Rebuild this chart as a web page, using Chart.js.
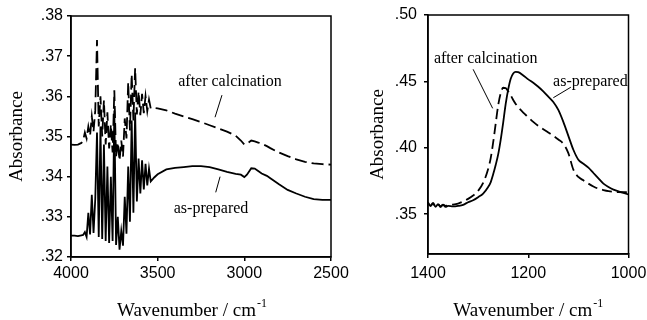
<!DOCTYPE html>
<html>
<head>
<meta charset="utf-8">
<script src="https://cdn.jsdelivr.net/npm/chart.js@4.4.1/dist/chart.umd.min.js"></script>
<style>
  html, body { margin: 0; padding: 0; background: #fff; }
  #wrap { position: relative; width: 647px; height: 320px; overflow: hidden; }
  #chartL { position: absolute; left: 0; top: 0; }
  #chartR { position: absolute; left: 340px; top: 0; }
</style>
</head>
<body>
<div id="wrap">
  <canvas id="chartL" width="370" height="320"></canvas>
  <canvas id="chartR" width="307" height="320"></canvas>
</div>
<script>
// left panel: O-H / C-H region
var leftWn = [4000, 3980, 3960, 3940,
  3930, 3920, 3910, 3900, 3890, 3880, 3870, 3860, 3850, 3840,
  3830, 3820, 3810, 3800, 3790, 3780, 3770, 3760, 3750, 3740,
  3730, 3720, 3710, 3700, 3690, 3680, 3670, 3660, 3650, 3640,
  3630, 3620, 3610, 3600, 3590, 3580, 3570, 3560, 3550, 3540,
  3520, 3500, 3450, 3400, 3350, 3300, 3250, 3200, 3150, 3100,
  3050, 3020, 3000, 2985, 2960, 2940, 2920, 2900, 2870, 2850,
  2800, 2750, 2700, 2650, 2600, 2550, 2500];
var leftCalc = [0.3480, 0.3479, 0.3480, 0.3484,
  0.3490, 0.3510, 0.3495, 0.3525, 0.3502, 0.3550, 0.3512, 0.3565, 0.3740, 0.3525,
  0.3600, 0.3500, 0.3590, 0.3480, 0.3560, 0.3470, 0.3530, 0.3460, 0.3615, 0.3450,
  0.3485, 0.3440, 0.3490, 0.3450, 0.3545, 0.3495, 0.3635, 0.3515, 0.3655, 0.3540,
  0.3670, 0.3555, 0.3612, 0.3553, 0.3606, 0.3558, 0.3601, 0.3563, 0.3592, 0.3570,
  0.3571, 0.3570, 0.3565, 0.3557, 0.3550, 0.3543, 0.3536, 0.3528, 0.3520, 0.3512,
  0.3502, 0.3490, 0.3480, 0.3482, 0.3490, 0.3488, 0.3485, 0.3482, 0.3476, 0.3471,
  0.3460, 0.3451, 0.3443, 0.3437, 0.3433, 0.3431, 0.3430];
var leftPrep = [0.3253, 0.3253, 0.3252, 0.3254,
  0.3255, 0.3262, 0.3250, 0.3310, 0.3256, 0.3355, 0.3260, 0.3345, 0.3510, 0.3250,
  0.3525, 0.3245, 0.3480, 0.3240, 0.3425, 0.3235, 0.3400, 0.3240, 0.3565, 0.3230,
  0.3300, 0.3218, 0.3265, 0.3228, 0.3350, 0.3258, 0.3425, 0.3288, 0.3540, 0.3310,
  0.3560, 0.3338, 0.3445, 0.3358, 0.3441, 0.3368, 0.3432, 0.3378, 0.3420, 0.3388,
  0.3398, 0.3406, 0.3418, 0.3422, 0.3424, 0.3426, 0.3426, 0.3424, 0.3418, 0.3412,
  0.3407, 0.3405, 0.3399, 0.3405, 0.3421, 0.3420, 0.3414, 0.3408, 0.3402, 0.3396,
  0.3381, 0.3367, 0.3358, 0.3350, 0.3344, 0.3342, 0.3342];
var leftXTicks = [4000, 3500, 3000, 2500];
var leftYTicks = [0.32, 0.33, 0.34, 0.35, 0.36, 0.37, 0.38];

// right panel: framework region
var rightWn = [1400, 1395, 1390, 1385, 1380, 1375, 1370, 1365, 1360, 1350,
  1340, 1330, 1320, 1310, 1300, 1290, 1280, 1275, 1270, 1265,
  1260, 1255, 1250, 1245, 1240, 1235, 1230, 1225, 1220, 1210,
  1200, 1190, 1180, 1170, 1160, 1150, 1140, 1130, 1120, 1110,
  1100, 1090, 1080, 1070, 1060, 1050, 1040, 1030, 1020, 1010, 1000];
var rightCalc = [0.3580, 0.3565, 0.3585, 0.3560, 0.3575, 0.3560, 0.3572, 0.3562, 0.3568, 0.3572,
  0.3580, 0.3595, 0.3615, 0.3640, 0.3675, 0.3735, 0.3840, 0.3920, 0.4040, 0.4180,
  0.4320, 0.4410, 0.4452, 0.4450, 0.4425, 0.4395, 0.4360, 0.4330, 0.4305, 0.4265,
  0.4230, 0.4195, 0.4165, 0.4140, 0.4115, 0.4090, 0.4062, 0.4030, 0.3960, 0.3835,
  0.3780, 0.3755, 0.3730, 0.3708, 0.3692, 0.3682, 0.3674, 0.3669, 0.3666, 0.3665, 0.3665];
var rightPrep = [0.3590, 0.3560, 0.3580, 0.3555, 0.3575, 0.3553, 0.3570, 0.3555, 0.3562, 0.3558,
  0.3562, 0.3570, 0.3590, 0.3605, 0.3628, 0.3655, 0.3705, 0.3740, 0.3800, 0.3870,
  0.3950, 0.4060, 0.4190, 0.4330, 0.4440, 0.4520, 0.4560, 0.4572, 0.4570, 0.4545,
  0.4515, 0.4490, 0.4460, 0.4425, 0.4385, 0.4345, 0.4285, 0.4195, 0.4090, 0.3985,
  0.3910, 0.3880, 0.3850, 0.3810, 0.3770, 0.3730, 0.3705, 0.3685, 0.3672, 0.3660, 0.3648];
var rightXTicks = [1400, 1200, 1000];
var rightYTicks = [0.35, 0.40, 0.45, 0.50];

function pts(xs, ys) {
  return xs.map(function (x, i) { return { x: x, y: ys[i] }; });
}

// frame, curve labels and axis titles
var deco = {
  id: "deco",
  afterDraw: function (chart, args, o) {
    var ctx = chart.ctx, a = chart.chartArea;
    var sx = chart.scales.x, sy = chart.scales.y;
    ctx.save();
    ctx.strokeStyle = "#000";
    ctx.lineWidth = 1.5;
    ctx.strokeRect(a.left, a.top, a.right - a.left, a.bottom - a.top);

    ctx.fillStyle = "#000";
    ctx.font = '16px "Liberation Serif"';
    ctx.textAlign = "center";
    ctx.textBaseline = "middle";
    ctx.lineWidth = 1;
    o.notes.forEach(function (n) {
      ctx.fillText(n.text, sx.getPixelForValue(n.at[0]), sy.getPixelForValue(n.at[1]));
      ctx.beginPath();
      ctx.moveTo(sx.getPixelForValue(n.from[0]), sy.getPixelForValue(n.from[1]));
      ctx.lineTo(sx.getPixelForValue(n.to[0]), sy.getPixelForValue(n.to[1]));
      ctx.stroke();
    });

    ctx.font = '19px "Liberation Serif"';
    ctx.save();
    ctx.translate(o.yTitleX, (a.top + a.bottom) / 2);
    ctx.rotate(-Math.PI / 2);
    ctx.fillText("Absorbance", 0, 0);
    ctx.restore();

    var main = "Wavenumber / cm", sup = "-1";
    ctx.textAlign = "left";
    ctx.textBaseline = "alphabetic";
    ctx.font = '19px "Liberation Serif"';
    var w1 = ctx.measureText(main).width;
    ctx.font = '12px "Liberation Serif"';
    var w2 = ctx.measureText(sup).width;
    var x0 = (a.left + a.right) / 2 + o.xTitleDx - (w1 + w2 + 1) / 2;
    ctx.font = '19px "Liberation Serif"';
    ctx.fillText(main, x0, o.xTitleY);
    ctx.font = '12px "Liberation Serif"';
    ctx.fillText(sup, x0 + w1 + 1, o.xTitleY - 9);
    ctx.restore();
  }
};

function fmtAbs(v) {
  return v.toFixed(2).replace(/^0/, "");
}

function makeChart(id, p) {
  var ctx = document.getElementById(id).getContext("2d");
  return new Chart(ctx, {
    type: "line",
    data: {
      datasets: [
        {
          label: "after calcination",
          data: pts(p.wn, p.calc),
          borderColor: "#000",
          borderWidth: p.lw,
          borderDash: p.dash,
          pointRadius: 0,
          fill: false,
          tension: 0,
          cubicInterpolationMode: p.smooth ? "monotone" : "default"
        },
        {
          label: "as-prepared",
          data: pts(p.wn, p.prep),
          borderColor: "#000",
          borderWidth: p.lw,
          pointRadius: 0,
          fill: false,
          tension: 0,
          cubicInterpolationMode: p.smooth ? "monotone" : "default"
        }
      ]
    },
    options: {
      responsive: false,
      animation: false,
      layout: { padding: p.pad },
      plugins: {
        legend: { display: false },
        tooltip: { enabled: false },
        deco: p.deco
      },
      scales: {
        x: {
          type: "linear",
          reverse: true,
          min: p.xMin,
          max: p.xMax,
          afterBuildTicks: function (s) { s.ticks = p.xTicks.map(function (v) { return { value: v }; }); },
          afterFit: function (s) { s.height = p.xH; s.paddingLeft = 0; s.paddingRight = 0; },
          ticks: {
            color: "#000",
            maxRotation: 0,
            padding: p.xPad,
            font: { family: "Liberation Sans", size: 16 },
            callback: function (v) { return String(v); }
          },
          grid: { drawOnChartArea: false, drawTicks: true, tickLength: 4, color: "#000", lineWidth: 1.5 },
          border: { display: true, color: "#000", width: 1.5 }
        },
        y: {
          type: "linear",
          min: p.yMin,
          max: p.yMax,
          afterBuildTicks: function (s) { s.ticks = p.yTicks.map(function (v) { return { value: v }; }); },
          afterFit: function (s) { s.width = p.yW; s.paddingTop = 0; s.paddingBottom = 0; },
          ticks: {
            color: "#000",
            padding: p.yPad,
            font: { family: "Liberation Sans", size: 16 },
            callback: function (v) { return fmtAbs(v); }
          },
          grid: { drawOnChartArea: false, drawTicks: true, tickLength: 4, color: "#000", lineWidth: 1.5 },
          border: { display: true, color: "#000", width: 1.5 }
        }
      }
    },
    plugins: [deco]
  });
}

makeChart("chartL", {
  wn: leftWn, calc: leftCalc, prep: leftPrep,
  xMin: 2500, xMax: 4000, yMin: 0.32, yMax: 0.38,
  xTicks: leftXTicks, yTicks: leftYTicks,
  dash: [12, 5], smooth: false, lw: 1.8,
  pad: { top: 16, right: 39, bottom: 0, left: 0 },
  xH: 63, yW: 71, xPad: 3, yPad: 4,
  deco: {
    yTitleX: 17, xTitleY: 316, xTitleDx: -9,
    notes: [
      { text: "after calcination", at: [3083, 0.3635], from: [3129, 0.3603], to: [3169, 0.3548] },
      { text: "as-prepared", at: [3192, 0.3320], from: [3140, 0.3400], to: [3165, 0.3361] }
    ]
  }
});

makeChart("chartR", {
  wn: rightWn, calc: rightCalc, prep: rightPrep,
  xMin: 1000, xMax: 1400, yMin: 0.32, yMax: 0.50,
  xTicks: rightXTicks, yTicks: rightYTicks,
  dash: [10, 5], smooth: true, lw: 1.8,
  pad: { top: 15, right: 18.5, bottom: 0, left: 0 },
  xH: 66, yW: 88, xPad: 6, yPad: 7,
  deco: {
    yTitleX: 38, xTitleY: 316, xTitleDx: 0,
    notes: [
      { text: "after calcination", at: [1285, 0.4667], from: [1310, 0.4591], to: [1271, 0.4297] },
      { text: "as-prepared", at: [1076, 0.4498], from: [1115, 0.4456], to: [1150, 0.4377] }
    ]
  }
});
</script>
</body>
</html>
